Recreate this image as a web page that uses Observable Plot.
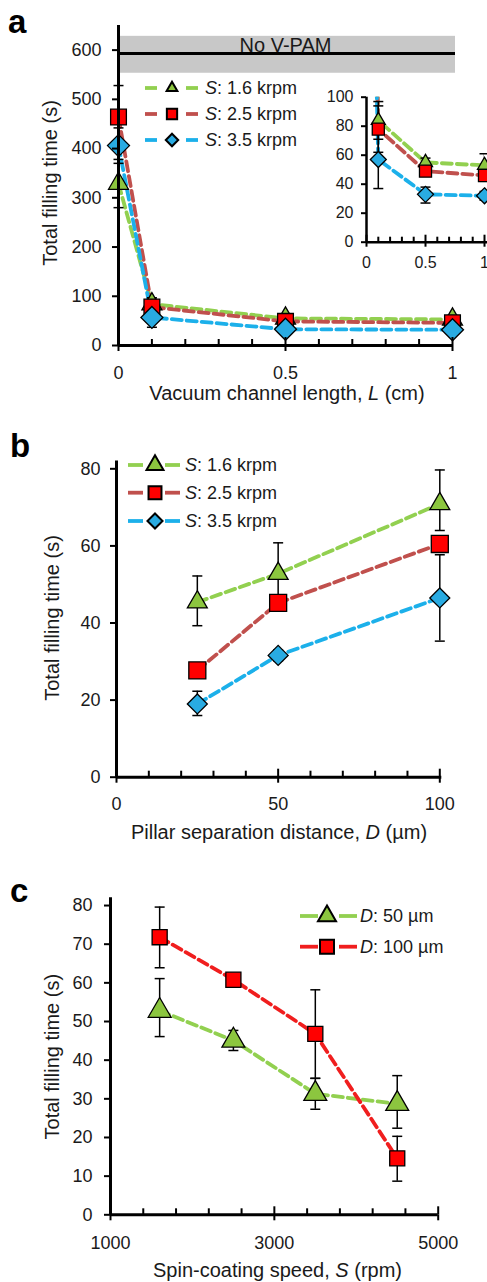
<!DOCTYPE html>
<html><head><meta charset="utf-8">
<script src="https://cdn.jsdelivr.net/npm/d3@7"></script>
<script src="https://cdn.jsdelivr.net/npm/@observablehq/plot@0.6"></script>
<style>
html,body{margin:0;padding:0;background:#fff;overflow:hidden;}
#root{position:relative;width:487px;height:1282px;overflow:hidden;}
.panel{position:absolute;}
.panel svg{display:block;overflow:visible;max-width:none !important;}
</style></head><body><div id="root"></div>
<script>
// ---------- data ----------
// Panel a: vacuum channel length L (cm)
const lengthL = [0, 0.1, 0.5, 1];
const fillA_S16 = [329, 84, 55, 53];
const loA_S16 = [280, 71, 52, 45];
const hiA_S16 = [378, 97, 58, 61];
const fillA_S25 = [464, 78, 49, 46];
const loA_S25 = [400, 62, 46, 42];
const hiA_S25 = [528, 94, 52, 50];
const fillA_S35 = [406, 57, 33, 32];
const loA_S35 = [370, 37, 27, 29];
const hiA_S35 = [442, 77, 38, 35];
const noVpam = [{mean: 593, low: 553, high: 628}];
const noVpamLabel = ["No V-PAM"];
const ticksAY = [0, 100, 200, 300, 400, 500, 600];
const ticksAX = [0, 0.5, 1];
const minorAX = [0.1, 0.2, 0.3, 0.4, 0.6, 0.7, 0.8, 0.9];
const ticksInsetY = [0, 20, 40, 60, 80, 100];

// Panel b: pillar separation distance D (µm)
const separationD = [25, 50, 100];
const fillB_S16 = [45.4, 52.8, 70.9];
const loB_S16 = [39.3, 45, 64];
const hiB_S16 = [52.2, 60.8, 79.7];
const fillB_S25 = [27.7, 45.2, 60.5];
const loB_S25 = [26.3, 43.6, 59];
const hiB_S25 = [29.1, 46.8, 62];
const fillB_S35 = [19.0, 31.6, 46.5];
const loB_S35 = [16, 30.2, 35.3];
const hiB_S35 = [22.3, 33, 57.7];
const ticksBY = [0, 20, 40, 60, 80];
const ticksBX = [0, 50, 100];
const minorBX = [10, 20, 30, 40, 60, 70, 80, 90];

// Panel c: spin-coating speed S (rpm)
const speedS = [1600, 2500, 3500, 4500];
const fillC_D50 = [52.8, 45.1, 31.3, 28.7];
const loC_D50 = [46.1, 42.5, 27.3, 22.4];
const hiC_D50 = [61.1, 47.7, 35.3, 36.0];
const fillC_D100 = [71.8, 60.8, 46.8, 14.6];
const loC_D100 = [63.9, 59.8, 35.3, 8.7];
const hiC_D100 = [79.6, 61.8, 58.2, 20.3];
const ticksCY = [0, 10, 20, 30, 40, 50, 60, 70, 80];
const ticksCX = [1000, 3000, 5000];
const minorCX = [1400, 1800, 2200, 2600, 3400, 3800, 4200, 4600];

const legendSpeeds = [["S", ": 1.6 krpm"], ["S", ": 2.5 krpm"], ["S", ": 3.5 krpm"]];
const legendDist = [["D", ": 50 µm"], ["D", ": 100 µm"]];

// ---------- styles ----------
const FONT = '"Liberation Sans", Arial, Helvetica, sans-serif';
const GREEN = "#92d050", GREEN_FILL = "#8cc63f";
const BROWN = "#c0504d", RED_FILL = "#ff0000", RED_LINE = "#f01e1e";
const BLUE = "#1cb0ea", BLUE_FILL = "#29abe2";
const TXT = "#1a1a1a";
const DASH = "10,5";
const LW = 3.8;

const capSym = {draw(ctx) { ctx.moveTo(-5, 0); ctx.lineTo(5, 0); }};

function rowsOf(xs, ys, lo, hi) { return xs.map((x, i) => ({x, y: ys[i], lo: lo[i], hi: hi[i]})); }

function lineMark(rows, color, clip = false) {
  return Plot.line(rows, {x: "x", y: "y", stroke: color, strokeWidth: LW, strokeDasharray: DASH, clip});
}
function errMarks(rows, clip = false, filter = null) {
  const f = filter ? {filter} : {};
  return [
    Plot.ruleX(rows, {x: "x", y1: "lo", y2: "hi", stroke: "#000", strokeWidth: 1.5, clip}),
    Plot.dot(rows, {x: "x", y: "lo", symbol: capSym, fill: "none", stroke: "#000", strokeWidth: 1.5, ...f}),
    Plot.dot(rows, {x: "x", y: "hi", symbol: capSym, fill: "none", stroke: "#000", strokeWidth: 1.5, ...f})
  ];
}
function dotMark(rows, symbol, r, fill, filter = null) {
  const f = filter ? {filter} : {};
  return Plot.dot(rows, {x: "x", y: "y", symbol, r, fill, stroke: "#000", strokeWidth: 1.3, ...f});
}
function axesMarks({ticksX, minorX, ticksY, frameH, fontSize = 18, padX = 15, padY = 11, tickLen = 6, xLine = 3, extendX = 0}) {
  return [
    Plot.axisY({ticks: ticksY, tickSize: tickLen, tickPadding: padY, tickFormat: d => String(d), label: null, fontSize, strokeWidth: 2, fill: TXT}),
    Plot.axisX({ticks: ticksX, tickSize: tickLen, tickPadding: padX, tickFormat: d => String(d), label: null, fontSize, strokeWidth: 2, fill: TXT}),
    Plot.tickX(minorX, {x: d => d, insetTop: frameH - tickLen, stroke: "#000", strokeWidth: 2}),
    Plot.tickX(ticksX, {x: d => d, insetTop: frameH - tickLen - 2, stroke: "#000", strokeWidth: 2}),
    Plot.ruleY([0], {stroke: "#000", strokeWidth: xLine, insetRight: -extendX}),
  ];
}

const root = document.getElementById("root");
function place(el, top, left = 0) {
  const d = document.createElement("div");
  d.className = "panel"; d.style.top = top + "px"; d.style.left = left + "px";
  d.appendChild(el); root.appendChild(d);
  return el;
}
function addText(svg, x, y, parts, {size = 20, rotate = false} = {}) {
  const t = d3.select(svg).append("text")
    .attr("font-family", FONT).attr("font-size", size).attr("fill", TXT)
    .attr("text-anchor", "middle");
  if (rotate) t.attr("transform", `translate(${x},${y}) rotate(-90)`).attr("dy", "0.35em");
  else t.attr("x", x).attr("y", y).attr("dy", "0.35em");
  parts.forEach(([s, it]) => t.append("tspan").attr("font-style", it ? "italic" : null).text(s));
}
function addPanelLabel(svg, x, y, s) {
  d3.select(svg).append("text").attr("x", x).attr("y", y).attr("font-family", FONT)
    .attr("font-size", 33).attr("font-weight", "bold").attr("fill", "#000")
    .attr("text-anchor", "start").text(s);
}
function addLegend(svg, items, {x0, x1, seg, xm, xt, ys, size = 18}) {
  const g = d3.select(svg).append("g");
  items.forEach((it, i) => {
    const y = ys[i];
    g.append("line").attr("x1", x0).attr("x2", x0 + seg).attr("y1", y).attr("y2", y).attr("stroke", it.color).attr("stroke-width", LW);
    g.append("line").attr("x1", x1 - seg).attr("x2", x1).attr("y1", y).attr("y2", y).attr("stroke", it.color).attr("stroke-width", LW);
    g.append("path").attr("d", d3.symbol(it.symbol, Math.PI * it.r * it.r)())
      .attr("transform", `translate(${xm},${y})`).attr("fill", it.fill).attr("stroke", "#000").attr("stroke-width", 2);
    const t = g.append("text").attr("x", xt).attr("y", y).attr("dy", "0.35em")
      .attr("text-anchor", "start")
      .attr("font-family", FONT).attr("font-size", size).attr("fill", TXT);
    t.append("tspan").attr("font-style", "italic").text(it.label[0]);
    t.append("tspan").text(it.label[1]);
  });
}
const baseStyle = {fontFamily: FONT, fontSize: "18px", background: "transparent", color: "#000", overflow: "visible"};

// ---------- panel a ----------
const rA16 = rowsOf(lengthL, fillA_S16, loA_S16, hiA_S16);
const rA25 = rowsOf(lengthL, fillA_S25, loA_S25, hiA_S25);
const rA35 = rowsOf(lengthL, fillA_S35, loA_S35, hiA_S35);
const frameA = 405 - 25 - 60;
const svgA = Plot.plot({
  width: 487, height: 405, marginTop: 25, marginBottom: 60, marginLeft: 118, marginRight: 35,
  x: {domain: [0, 1]}, y: {domain: [0, 650]},
  style: baseStyle,
  marks: [
    Plot.rect(noVpam, {y1: "low", y2: "high", fill: "#c8c8c8", insetRight: -3}),
    Plot.ruleY(noVpam, {y: "mean", stroke: "#000", strokeWidth: 3, insetRight: -3}),
    Plot.text(noVpamLabel, {text: d => d, frameAnchor: "top", dy: 12, fontSize: 20, fill: TXT}),
    lineMark(rA16, GREEN), lineMark(rA25, BROWN), lineMark(rA35, BLUE),
    ...errMarks(rA16), ...errMarks(rA25), ...errMarks(rA35),
    dotMark(rA16, "triangle", 7.4, GREEN_FILL),
    dotMark(rA25, "square", 8.9, RED_FILL),
    dotMark(rA35, "diamond2", 9.9, BLUE_FILL),
    ...axesMarks({ticksX: ticksAX, minorX: minorAX, ticksY: ticksAY, frameH: frameA, extendX: 1}),
    Plot.ruleX([0], {stroke: "#000", strokeWidth: 3}),
  ]
});
place(svgA, 0);
addLegend(svgA, [
  {color: GREEN, fill: GREEN_FILL, symbol: d3.symbolTriangle, r: 4, label: legendSpeeds[0]},
  {color: BROWN, fill: RED_FILL, symbol: d3.symbolSquare, r: 5.8, label: legendSpeeds[1]},
  {color: BLUE, fill: BLUE_FILL, symbol: d3.symbolDiamond2, r: 5.6, label: legendSpeeds[2]},
], {x0: 145, x1: 198, seg: 12, xm: 172, xt: 205, ys: [88, 114, 140]});
addText(svgA, 287, 393, [["Vacuum channel length, "], ["L", true], [" (cm)"]]);
addText(svgA, 50, 183, [["Total filling time (s)"]], {rotate: true});
addPanelLabel(svgA, 8, 33, "a");

// ---------- inset ----------
const notAbove = d => d.y <= 100;
const frameI = 192 - 16.7 - 30.3;
const svgI = Plot.plot({
  width: 200, height: 192, marginTop: 16.7, marginBottom: 30.3, marginLeft: 66, marginRight: 16,
  x: {domain: [0, 1]}, y: {domain: [0, 100]},
  style: {...baseStyle, fontSize: "16px"},
  marks: [
    lineMark(rA16, GREEN, true), lineMark(rA25, BROWN, true), lineMark(rA35, BLUE, true),
    ...errMarks(rA16, true, notAbove), ...errMarks(rA25, true, notAbove), ...errMarks(rA35, true, notAbove),
    dotMark(rA16, "triangle", 5.2, GREEN_FILL, notAbove),
    dotMark(rA25, "square", 6.8, RED_FILL, notAbove),
    dotMark(rA35, "diamond2", 7.2, BLUE_FILL, notAbove),
    ...axesMarks({ticksX: ticksAX, minorX: minorAX, ticksY: ticksInsetY, frameH: frameI, fontSize: 16, padX: 9, padY: 8, tickLen: 5, xLine: 2.5, extendX: 10}),
    Plot.ruleX([0], {stroke: "#000", strokeWidth: 2.5}),
  ]
});
place(svgI, 80, 300);

// ---------- panel b ----------
const rB16 = rowsOf(separationD, fillB_S16, loB_S16, hiB_S16);
const rB25 = rowsOf(separationD, fillB_S25, loB_S25, hiB_S25);
const rB35 = rowsOf(separationD, fillB_S35, loB_S35, hiB_S35);
const frameB = 440 - 55.6 - 68.3;
const svgB = Plot.plot({
  width: 487, height: 440, marginTop: 55.6, marginBottom: 68.3, marginLeft: 116, marginRight: 47.7,
  x: {domain: [0, 100]}, y: {domain: [0, 82]},
  style: baseStyle,
  marks: [
    lineMark(rB16, GREEN), lineMark(rB25, BROWN), lineMark(rB35, BLUE),
    ...errMarks(rB16), ...errMarks(rB25), ...errMarks(rB35),
    dotMark(rB16, "triangle", 7.4, GREEN_FILL),
    dotMark(rB25, "square", 9.6, RED_FILL),
    dotMark(rB35, "diamond2", 9, BLUE_FILL),
    ...axesMarks({ticksX: ticksBX, minorX: minorBX, ticksY: ticksBY, frameH: frameB, padX: 14, padY: 10, extendX: 2}),
    Plot.ruleX([0], {stroke: "#000", strokeWidth: 3}),
  ]
});
place(svgB, 405);
addLegend(svgB, [
  {color: GREEN, fill: GREEN_FILL, symbol: d3.symbolTriangle, r: 6.3, label: legendSpeeds[0]},
  {color: BROWN, fill: RED_FILL, symbol: d3.symbolSquare, r: 7.3, label: legendSpeeds[1]},
  {color: BLUE, fill: BLUE_FILL, symbol: d3.symbolDiamond2, r: 6.8, label: legendSpeeds[2]},
], {x0: 128, x1: 180, seg: 15, xm: 155, xt: 185, ys: [60, 87.7, 116]});
addText(svgB, 279, 427, [["Pillar separation distance, "], ["D", true], [" (µm)"]]);
addText(svgB, 52, 213, [["Total filling time (s)"]], {rotate: true});
addPanelLabel(svgB, 10, 52, "b");

// ---------- panel c ----------
const rC50 = rowsOf(speedS, fillC_D50, loC_D50, hiC_D50);
const rC100 = rowsOf(speedS, fillC_D100, loC_D100, hiC_D100);
const frameC = 437 - 52.3 - 67.7;
const svgC = Plot.plot({
  width: 487, height: 437, marginTop: 52.3, marginBottom: 67.7, marginLeft: 110, marginRight: 49.3,
  x: {domain: [1000, 5000]}, y: {domain: [0, 82]},
  style: baseStyle,
  marks: [
    lineMark(rC50, GREEN), lineMark(rC100, RED_LINE),
    ...errMarks(rC50), ...errMarks(rC100),
    dotMark(rC50, "triangle", 8.5, GREEN_FILL),
    dotMark(rC100, "square", 8.5, RED_FILL),
    ...axesMarks({ticksX: ticksCX, minorX: minorCX, ticksY: ticksCY, frameH: frameC, padX: 15, padY: 12}),
    Plot.ruleX([1000], {stroke: "#000", strokeWidth: 3}),
  ]
});
place(svgC, 845);
addLegend(svgC, [
  {color: GREEN, fill: GREEN_FILL, symbol: d3.symbolTriangle, r: 6.7, label: legendDist[0]},
  {color: RED_LINE, fill: RED_FILL, symbol: d3.symbolSquare, r: 7.9, label: legendDist[1]},
], {x0: 300, x1: 357, seg: 18, xm: 327, xt: 360, ys: [71, 101.7]});
addText(svgC, 277.5, 425, [["Spin-coating speed, "], ["S", true], [" (rpm)"]]);
addText(svgC, 52, 211.7, [["Total filling time (s)"]], {rotate: true});
addPanelLabel(svgC, 10, 57, "c");
</script>
</body></html>
